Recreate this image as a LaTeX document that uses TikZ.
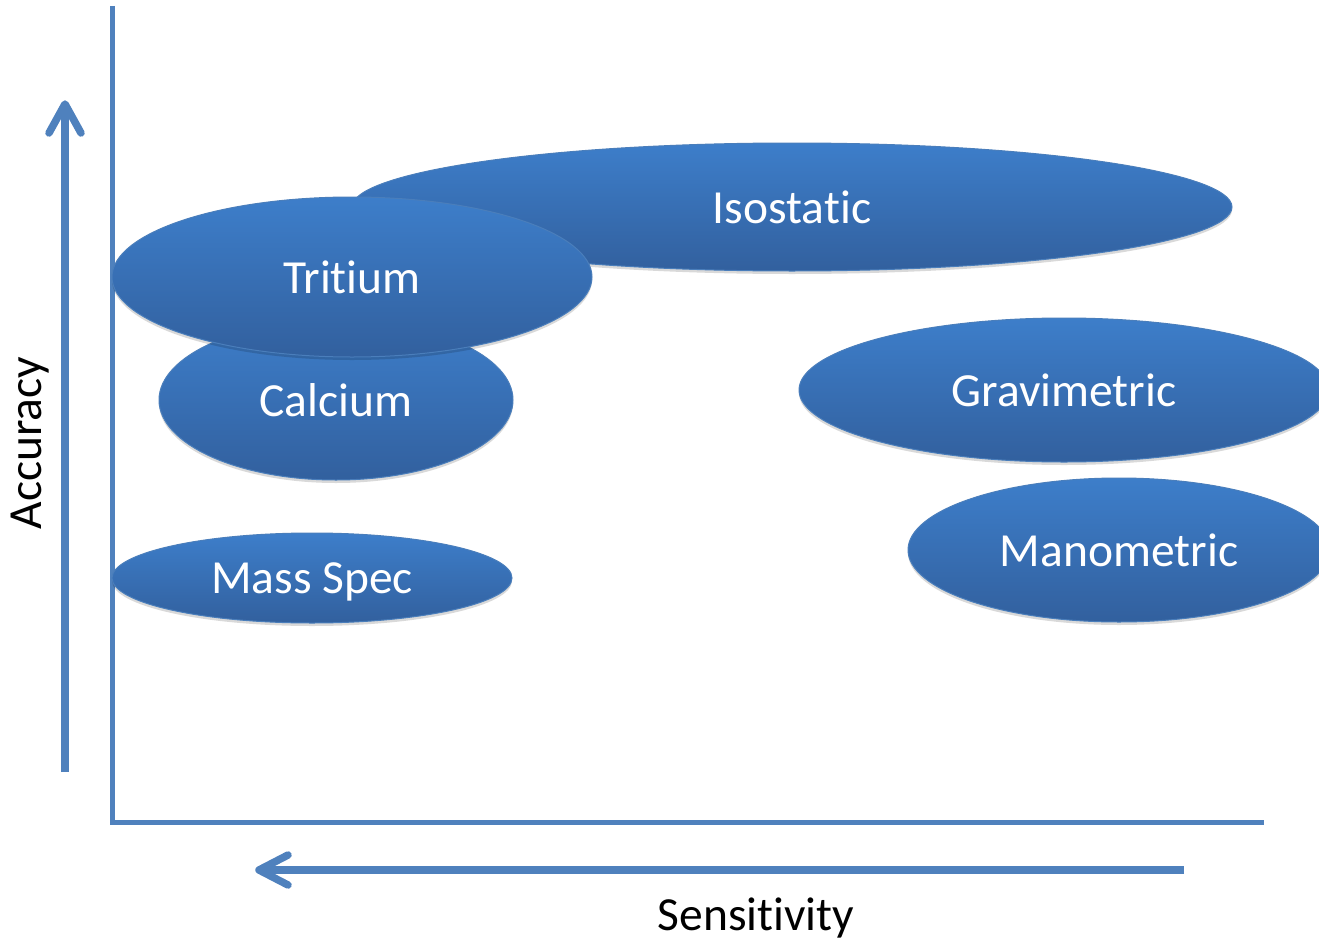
\documentclass[tikz,border=0pt]{standalone}
\usepackage{fontspec}
\setmainfont{Carlito}[RawFeature={-liga;-clig}]
\usetikzlibrary{shapes.geometric,shadows}
\definecolor{elltop}{RGB}{61,126,202}
\definecolor{ellbot}{RGB}{50,96,158}
\definecolor{ellborder}{RGB}{74,126,187}
\definecolor{axiscol}{RGB}{79,129,189}
\tikzset{
  blob/.style={ellipse, inner sep=0pt, draw=ellborder, line width=1pt,
    top color=elltop, bottom color=ellbot, text=white,
    font=\fontsize{47.5}{56}\selectfont,
    drop shadow={shadow xshift=0pt, shadow yshift=-3pt, opacity=0.15, fill=black}},
  axisline/.style={draw=axiscol, line width=5pt},
  arrowline/.style={draw=axiscol, line width=7.5pt},
  barb/.style={draw=axiscol, line width=7.5pt, line cap=round, line join=round},
  lbl/.style={text=black, font=\fontsize{47.5}{56}\selectfont, inner sep=0pt}
}
\begin{document}
\begin{tikzpicture}[x=1pt,y=-1pt]
\useasboundingbox (0,0) rectangle (1319,942);
\clip (0,0) rectangle (1319,942);
\fill[white] (0,0) rectangle (1319,942);
% axes
\coordinate (ytop) at (112,6);
\coordinate (orig) at (112,822);
\coordinate (xend) at (1264,822);
\draw[axisline, line join=miter] (ytop) -- (orig) -- (xend);
% accuracy arrow
\coordinate (abot) at (65,772);
\coordinate (atip) at (65,104);
\draw[arrowline, shorten >=4pt] (abot) -- (atip);
\draw[barb] ([shift={(-16,29)}]atip) -- (atip) -- ([shift={(16,29)}]atip);
% sensitivity arrow
\coordinate (sstart) at (1184,870);
\coordinate (stip) at (259,870);
\draw[arrowline, shorten >=4pt] (sstart) -- (stip);
\draw[barb] ([shift={(29,-15)}]stip) -- (stip) -- ([shift={(29,15)}]stip);
% labels
\node[lbl, rotate=90] (acc) at (30,443) {Accuracy};
\node[lbl] (sens) at (756,918) {Sensitivity};
% ellipses
\node[blob, minimum width=880pt, minimum height=128pt] (iso) at (792,207) {Isostatic};
\node[blob, minimum width=354pt, minimum height=160pt] (cal) at (336,400) {Calcium};
\node[blob, minimum width=480pt, minimum height=160pt] (tri) at (352,277) {Tritium};
\node[blob, minimum width=400pt, minimum height=90pt, text depth=0pt] (ms) at (312,578) {Mass Spec};
\node[blob, minimum width=530pt, minimum height=144pt] (grav) at (1064,390) {Gravimetric};
\node[blob, minimum width=422pt, minimum height=144pt] (mano) at (1119,550) {Manometric};
\end{tikzpicture}
\end{document}
